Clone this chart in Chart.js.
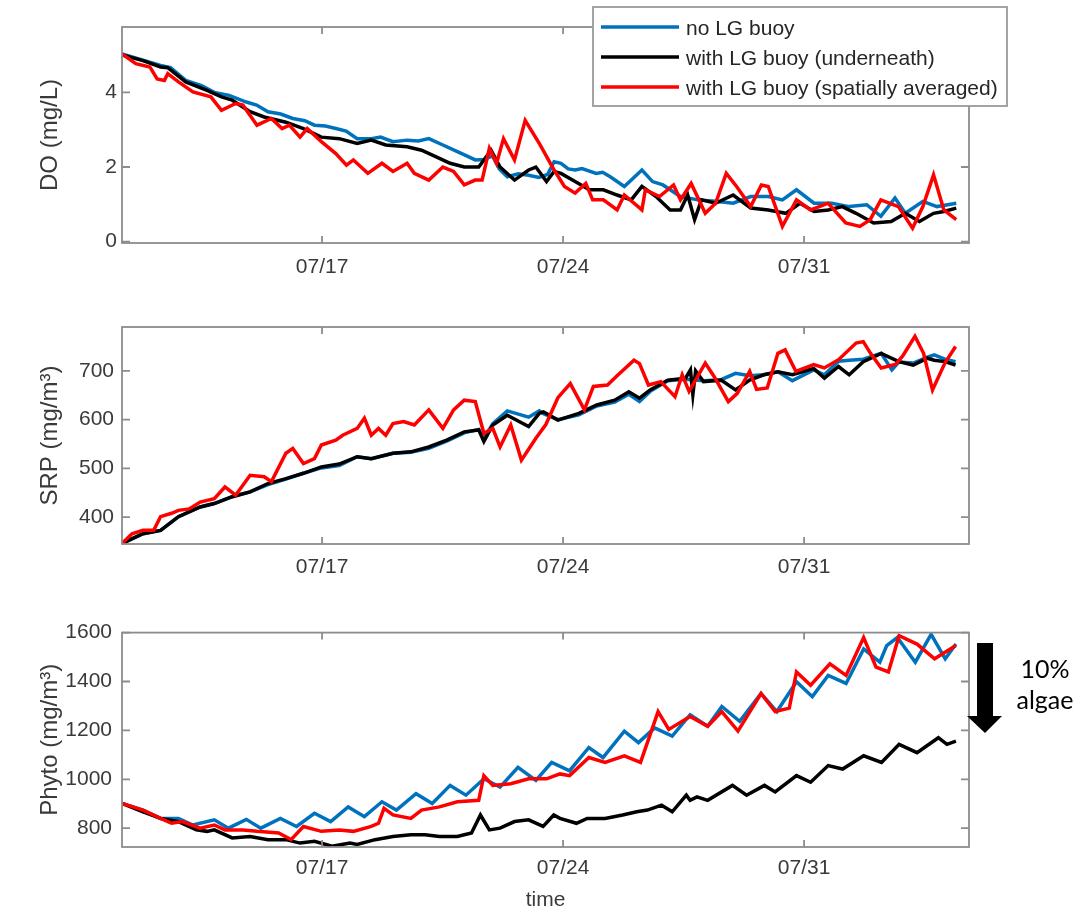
<!DOCTYPE html>
<html><head><meta charset="utf-8">
<script src="https://cdn.jsdelivr.net/npm/chart.js@4.4.1/dist/chart.umd.min.js"></script>
<style>
html,body{margin:0;padding:0;background:#fff;}
body{width:1091px;height:913px;position:relative;overflow:hidden;}
canvas{position:absolute;left:0;}
</style></head><body>
<canvas id="c1" width="1091" height="300" style="top:0px"></canvas>
<canvas id="c2" width="1091" height="310" style="top:300px"></canvas>
<canvas id="c3" width="1091" height="303" style="top:610px"></canvas>
<script>
// ---- data (x = days since 07/11 00:00) ----
const seriesNames = ['no LG buoy', 'with LG buoy (underneath)', 'with LG buoy (spatially averaged)'];
const seriesColors = ['#0072BD', '#000000', '#FF0000'];
const tickDays = [6, 13, 20];
const tickLabels = ['07/17', '07/24', '07/31'];
const xRange = [0.19, 24.79];

const doNoBuoy = [[0.19,5.03],[0.8,4.86],[1.31,4.72],[1.6,4.66],[2.04,4.32],[2.5,4.18],[2.87,4.0],[3.3,3.92],[3.8,3.74],[4.1,3.66],[4.43,3.48],[4.8,3.42],[5.15,3.3],[5.5,3.24],[5.78,3.12],[6.1,3.1],[6.4,3.03],[6.7,2.96],[7.02,2.76],[7.43,2.76],[7.7,2.8],[8.06,2.68],[8.47,2.72],[8.8,2.7],[9.1,2.76],[9.51,2.59],[9.93,2.41],[10.2,2.3],[10.45,2.19],[10.7,2.2],[10.95,2.3],[11.15,1.95],[11.38,1.74],[11.7,1.82],[12.0,1.78],[12.3,1.72],[12.55,1.8],[12.74,2.14],[12.94,2.1],[13.15,1.95],[13.35,1.92],[13.55,1.96],[13.96,1.83],[14.15,1.86],[14.37,1.74],[14.78,1.48],[15.29,1.92],[15.6,1.61],[15.9,1.52],[16.41,1.21],[16.92,1.12],[17.43,1.08],[17.94,1.03],[18.45,1.21],[18.96,1.21],[19.37,1.12],[19.78,1.39],[20.29,1.03],[20.8,1.03],[21.31,0.94],[21.82,0.99],[22.23,0.68],[22.64,1.17],[22.94,0.76],[23.45,1.08],[23.86,0.94],[24.17,0.99],[24.42,1.03]];
const doUnder = [[0.19,5.0],[0.8,4.85],[1.31,4.68],[1.52,4.66],[2.04,4.28],[2.66,4.05],[3.08,3.88],[3.39,3.79],[3.91,3.48],[4.32,3.34],[4.95,3.2],[5.46,3.03],[5.98,2.8],[6.5,2.76],[7.02,2.63],[7.43,2.72],[7.85,2.59],[8.47,2.54],[8.89,2.45],[9.3,2.28],[9.72,2.1],[10.13,2.0],[10.55,2.0],[10.91,2.45],[11.17,2.0],[11.59,1.65],[12.0,1.92],[12.21,2.0],[12.52,1.61],[12.74,1.88],[12.94,1.83],[13.35,1.61],[13.76,1.39],[14.17,1.39],[14.57,1.25],[14.98,1.12],[15.29,1.48],[15.7,1.21],[16.11,0.85],[16.41,0.85],[16.62,1.25],[16.82,0.59],[17.02,1.12],[17.43,1.03],[17.94,1.25],[18.45,0.9],[18.96,0.85],[19.47,0.76],[19.88,1.03],[20.29,0.81],[20.7,0.85],[21.11,0.94],[21.51,0.76],[22.02,0.5],[22.53,0.54],[22.94,0.76],[23.35,0.54],[23.76,0.76],[24.06,0.81],[24.42,0.9]];
const doAvg = [[0.19,5.03],[0.59,4.77],[1.0,4.68],[1.21,4.36],[1.42,4.32],[1.52,4.5],[1.83,4.28],[2.25,4.01],[2.77,3.88],[3.08,3.52],[3.49,3.7],[3.7,3.66],[4.11,3.12],[4.53,3.3],[4.84,3.03],[5.05,3.12],[5.36,2.8],[5.57,3.03],[5.98,2.68],[6.4,2.36],[6.71,2.05],[6.91,2.19],[7.33,1.83],[7.74,2.1],[8.06,1.88],[8.47,2.1],[8.68,1.83],[9.1,1.65],[9.51,2.0],[9.82,1.88],[10.13,1.52],[10.45,1.65],[10.65,1.65],[10.86,2.5],[11.07,2.1],[11.27,2.76],[11.59,2.19],[11.9,3.25],[12.33,2.6],[12.74,1.92],[13.04,1.48],[13.35,1.3],[13.66,1.56],[13.86,1.12],[14.17,1.12],[14.57,0.85],[14.78,1.25],[15.29,0.85],[15.39,1.39],[15.8,1.21],[16.21,1.52],[16.41,1.12],[16.72,1.56],[17.13,0.76],[17.43,1.03],[17.74,1.83],[18.04,1.48],[18.45,0.94],[18.76,1.52],[18.96,1.48],[19.37,0.41],[19.78,1.12],[20.19,0.85],[20.7,1.03],[21.21,0.5],[21.62,0.41],[21.92,0.59],[22.23,1.12],[22.74,0.94],[23.15,0.36],[23.45,0.94],[23.76,1.79],[24.06,0.85],[24.42,0.59]];

const srpNoBuoy = [[0.19,346],[0.8,366],[1.31,373],[1.83,401],[2.46,421],[2.87,428],[3.39,442],[3.91,452],[4.43,467],[4.95,478],[5.46,490],[5.98,501],[6.5,506],[7.02,524],[7.43,520],[8.06,531],[8.58,533],[9.1,541],[9.62,556],[10.13,573],[10.55,580],[10.7,562],[10.96,592],[11.38,618],[12.0,605],[12.31,618],[12.43,612],[12.85,600],[13.46,610],[13.98,628],[14.5,636],[14.91,652],[15.22,637],[15.53,658],[16.04,680],[16.56,683],[17.08,680],[17.59,682],[18.01,695],[18.42,690],[18.83,692],[19.24,698],[19.66,680],[20.28,702],[20.59,692],[21.0,720],[21.31,722],[21.72,724],[22.24,736],[22.55,702],[22.75,718],[23.17,716],[23.58,728],[23.78,733],[24.09,724],[24.4,719]];
const srpUnder = [[0.19,346],[0.8,366],[1.31,373],[1.83,401],[2.46,421],[2.87,428],[3.39,442],[3.91,452],[4.43,469],[4.95,479],[5.46,490],[5.98,503],[6.5,509],[7.02,524],[7.43,520],[8.06,531],[8.58,534],[9.1,544],[9.62,558],[10.13,575],[10.55,579],[10.7,555],[10.96,589],[11.38,609],[12.0,586],[12.31,613],[12.43,616],[12.85,599],[13.46,613],[13.98,630],[14.5,640],[14.91,657],[15.22,644],[15.53,661],[16.04,681],[16.56,685],[16.7,702],[16.77,651],[16.85,700],[17.08,678],[17.59,681],[18.01,661],[18.42,681],[18.83,692],[19.24,698],[19.66,692],[20.28,705],[20.59,685],[21.0,709],[21.31,692],[21.72,719],[22.24,736],[22.75,719],[23.17,712],[23.58,726],[23.78,722],[24.09,719],[24.4,712]];
const srpAvg = [[0.19,346],[0.48,366],[0.8,373],[1.11,373],[1.31,401],[1.63,408],[1.83,414],[2.14,417],[2.46,431],[2.87,438],[3.18,462],[3.49,445],[3.91,486],[4.32,483],[4.53,473],[4.95,531],[5.15,541],[5.46,510],[5.78,520],[5.98,548],[6.4,558],[6.6,568],[7.02,582],[7.23,603],[7.43,568],[7.64,582],[7.85,568],[8.06,592],[8.37,596],[8.68,589],[9.1,620],[9.51,582],[9.82,620],[10.13,640],[10.45,637],[10.7,572],[10.96,582],[11.17,544],[11.48,589],[11.79,517],[12.21,562],[12.5,590],[12.85,645],[13.21,674],[13.62,620],[13.88,668],[14.29,671],[14.6,692],[15.06,722],[15.22,715],[15.48,671],[15.84,678],[16.25,647],[16.46,692],[16.66,658],[17.13,716],[17.39,688],[17.8,637],[18.06,654],[18.42,699],[18.62,662],[18.93,665],[19.24,736],[19.45,743],[19.76,699],[20.28,713],[20.59,706],[21.0,723],[21.51,757],[21.72,760],[21.93,736],[22.24,706],[22.65,713],[22.86,730],[23.22,771],[23.47,736],[23.73,661],[24.09,716],[24.4,750]];

const phytoNoBuoy = [[0.19,901],[0.8,874],[1.31,840],[1.83,840],[2.25,813],[2.87,834],[3.28,800],[3.8,836],[4.22,800],[4.79,840],[5.26,807],[5.78,861],[6.25,827],[6.76,887],[7.23,847],[7.74,908],[8.16,874],[8.73,941],[9.2,901],[9.72,975],[10.18,935],[10.7,1002],[11.17,968],[11.69,1049],[12.21,995],[12.67,1069],[13.19,1035],[13.75,1130],[14.16,1089],[14.78,1197],[15.19,1150],[15.66,1210],[16.17,1177],[16.69,1264],[17.2,1217],[17.61,1298],[18.13,1237],[18.75,1351],[19.21,1277],[19.78,1399],[20.24,1338],[20.7,1425],[21.22,1392],[21.73,1533],[22.2,1479],[22.4,1547],[22.71,1580],[23.23,1479],[23.69,1593],[24.1,1493],[24.41,1553]];
const phytoUnder = [[0.19,901],[0.8,867],[1.31,840],[1.83,827],[2.35,793],[2.66,787],[2.87,793],[3.39,760],[3.91,766],[4.43,753],[4.95,753],[5.36,739],[5.78,746],[6.29,726],[6.81,739],[7.02,733],[7.54,753],[8.06,766],[8.58,773],[8.99,773],[9.41,766],[9.93,766],[10.34,780],[10.6,854],[10.86,793],[11.17,800],[11.59,827],[12.0,834],[12.42,807],[12.73,854],[12.91,840],[13.39,820],[13.7,840],[14.22,840],[14.73,854],[15.14,867],[15.45,874],[15.86,894],[16.17,867],[16.58,935],[16.69,914],[16.89,928],[17.2,914],[17.92,975],[18.33,935],[18.85,975],[19.16,948],[19.78,1015],[20.19,988],[20.7,1056],[21.12,1042],[21.73,1096],[22.25,1069],[22.76,1143],[23.28,1109],[23.9,1170],[24.15,1143],[24.41,1156]];
const phytoAvg = [[0.19,901],[0.8,874],[1.31,840],[1.63,820],[1.94,827],[2.46,800],[2.87,813],[3.18,793],[3.7,793],[4.11,787],[4.74,780],[5.1,753],[5.46,807],[5.98,787],[6.5,793],[6.91,787],[7.43,807],[7.64,820],[7.8,881],[8.06,854],[8.58,840],[8.89,874],[9.41,887],[9.93,908],[10.55,914],[10.7,1015],[10.96,975],[11.48,982],[12.0,1002],[12.52,1002],[12.91,1022],[13.19,1015],[13.75,1089],[14.22,1069],[14.78,1096],[15.25,1069],[15.76,1277],[16.07,1204],[16.69,1257],[17.2,1217],[17.61,1277],[18.08,1197],[18.75,1351],[19.16,1277],[19.57,1291],[19.78,1439],[20.19,1385],[20.75,1472],[21.22,1425],[21.73,1580],[22.09,1459],[22.45,1439],[22.76,1587],[23.28,1553],[23.79,1493],[24.41,1547]];

const doTicks = [0, 2, 4];
const srpTicks = [400, 500, 600, 700];
const phytoTicks = [800, 1000, 1200, 1400, 1600];

// ---- rendering ----
const FONT = "'Liberation Sans', Arial, Helvetica, sans-serif";
const TXT = '#3a3a3a';
const FRAME = '#8c8c8c';

const framePlugin = {
  id: 'frame',
  afterDatasetsDraw(chart) {
    const {ctx, chartArea: a, scales: {x, y}} = chart;
    ctx.save();
    ctx.strokeStyle = FRAME; ctx.lineWidth = 1.8;
    ctx.strokeRect(a.left, a.top, a.right - a.left, a.bottom - a.top);
    ctx.beginPath();
    x.ticks.forEach(t => { const p = x.getPixelForValue(t.value);
      ctx.moveTo(p, a.bottom); ctx.lineTo(p, a.bottom - 7);
      ctx.moveTo(p, a.top); ctx.lineTo(p, a.top + 7); });
    y.ticks.forEach(t => { const p = y.getPixelForValue(t.value);
      ctx.moveTo(a.left, p); ctx.lineTo(a.left + 8, p);
      ctx.moveTo(a.right, p); ctx.lineTo(a.right - 8, p); });
    ctx.stroke();
    ctx.restore();
  }
};

const legendPlugin = {
  id: 'boxLegend',
  afterDraw(chart) {
    const ctx = chart.ctx;
    ctx.save();
    ctx.fillStyle = '#fff';
    ctx.fillRect(593, 7, 414, 99);
    ctx.strokeStyle = '#9a9a9a'; ctx.lineWidth = 1.8;
    ctx.strokeRect(593, 7, 414, 99);
    seriesNames.forEach((name, i) => {
      const yy = 27 + i * 30;
      ctx.strokeStyle = seriesColors[i]; ctx.lineWidth = 3.5;
      ctx.beginPath(); ctx.moveTo(601, yy); ctx.lineTo(679, yy); ctx.stroke();
      ctx.fillStyle = '#262626';
      ctx.font = '21px ' + FONT;
      ctx.textAlign = 'left'; ctx.textBaseline = 'alphabetic';
      ctx.fillText(name, 686, yy + 8);
    });
    ctx.restore();
  }
};

const arrowPlugin = {
  id: 'algaeArrow',
  afterDraw(chart) {
    const ctx = chart.ctx;
    ctx.save();
    ctx.fillStyle = '#000';
    ctx.fillRect(977, 33, 16, 74);
    ctx.beginPath();
    ctx.moveTo(967, 106); ctx.lineTo(1002, 106); ctx.lineTo(985, 123); ctx.closePath();
    ctx.fill();
    ctx.font = "25px Lato, 'Open Sans', sans-serif";
    ctx.textAlign = 'center'; ctx.textBaseline = 'alphabetic';
    ctx.fillText('10%', 1045, 68);
    ctx.fillText('algae', 1045, 99);
    ctx.restore();
  }
};

function makeDatasets(blue, black, red) {
  const sets = [blue, black, red];
  return sets.map((s, i) => ({
    label: seriesNames[i],
    data: s.map(p => ({x: p[0], y: p[1]})),
    borderColor: seriesColors[i],
    backgroundColor: seriesColors[i],
    borderWidth: 3.5,
    pointRadius: 0,
    tension: 0,
    fill: false,
    order: 2 - i
  }));
}

function makePanel(id, cfg) {
  return new Chart(document.getElementById(id), {
    type: 'line',
    data: {datasets: makeDatasets(...cfg.series)},
    options: {
      responsive: false, animation: false, events: [],
      layout: {padding: {left: 0, right: 122, top: cfg.padTop, bottom: 0}},
      plugins: {legend: {display: false}, tooltip: {enabled: false}},
      scales: {
        x: {
          type: 'linear', min: xRange[0], max: xRange[1],
          grid: {display: false, drawTicks: false}, border: {display: false},
          afterBuildTicks: s => { s.ticks = tickDays.map(v => ({value: v})); },
          afterFit: s => { s.height = cfg.xH; },
          ticks: {autoSkip: false, maxRotation: 0, padding: cfg.xPad, color: TXT,
                  font: {family: FONT, size: 21},
                  callback: v => tickLabels[tickDays.indexOf(v)]},
          title: cfg.xTitle ? {display: true, text: cfg.xTitle, color: TXT,
                  font: {family: FONT, size: 21}, padding: {top: 0, bottom: 0}} : {display: false}
        },
        y: {
          type: 'linear', min: cfg.yMin, max: cfg.yMax,
          grid: {display: false, drawTicks: false}, border: {display: false},
          afterBuildTicks: s => { s.ticks = cfg.yTicks.map(v => ({value: v})); },
          afterFit: s => { s.width = 122; },
          ticks: {autoSkip: false, padding: cfg.yPad, color: TXT,
                  font: {family: FONT, size: 21}, callback: v => String(v)},
          title: {display: true, text: cfg.yTitle, color: TXT,
                  font: {family: FONT, size: 24}, padding: {top: 36, bottom: 0}}
        }
      }
    },
    plugins: [framePlugin].concat(cfg.extra || [])
  });
}

makePanel('c1', {series: [doNoBuoy, doUnder, doAvg], yMin: -0.035, yMax: 5.75, yTicks: doTicks,
  yTitle: 'DO (mg/L)', padTop: 27, xH: 57, xPad: 12, yPad: 5, extra: [legendPlugin]});
makePanel('c2', {series: [srpNoBuoy, srpUnder, srpAvg], yMin: 345, yMax: 790, yTicks: srpTicks,
  yTitle: 'SRP (mg/m³)', padTop: 27, xH: 66, xPad: 11, yPad: 8});
makePanel('c3', {series: [phytoNoBuoy, phytoUnder, phytoAvg], yMin: 723, yMax: 1600, yTicks: phytoTicks,
  yTitle: 'Phyto (mg/m³)', padTop: 20, xH: 66, xPad: 9, yPad: 10, xTitle: 'time', extra: [arrowPlugin]});
</script></body></html>
